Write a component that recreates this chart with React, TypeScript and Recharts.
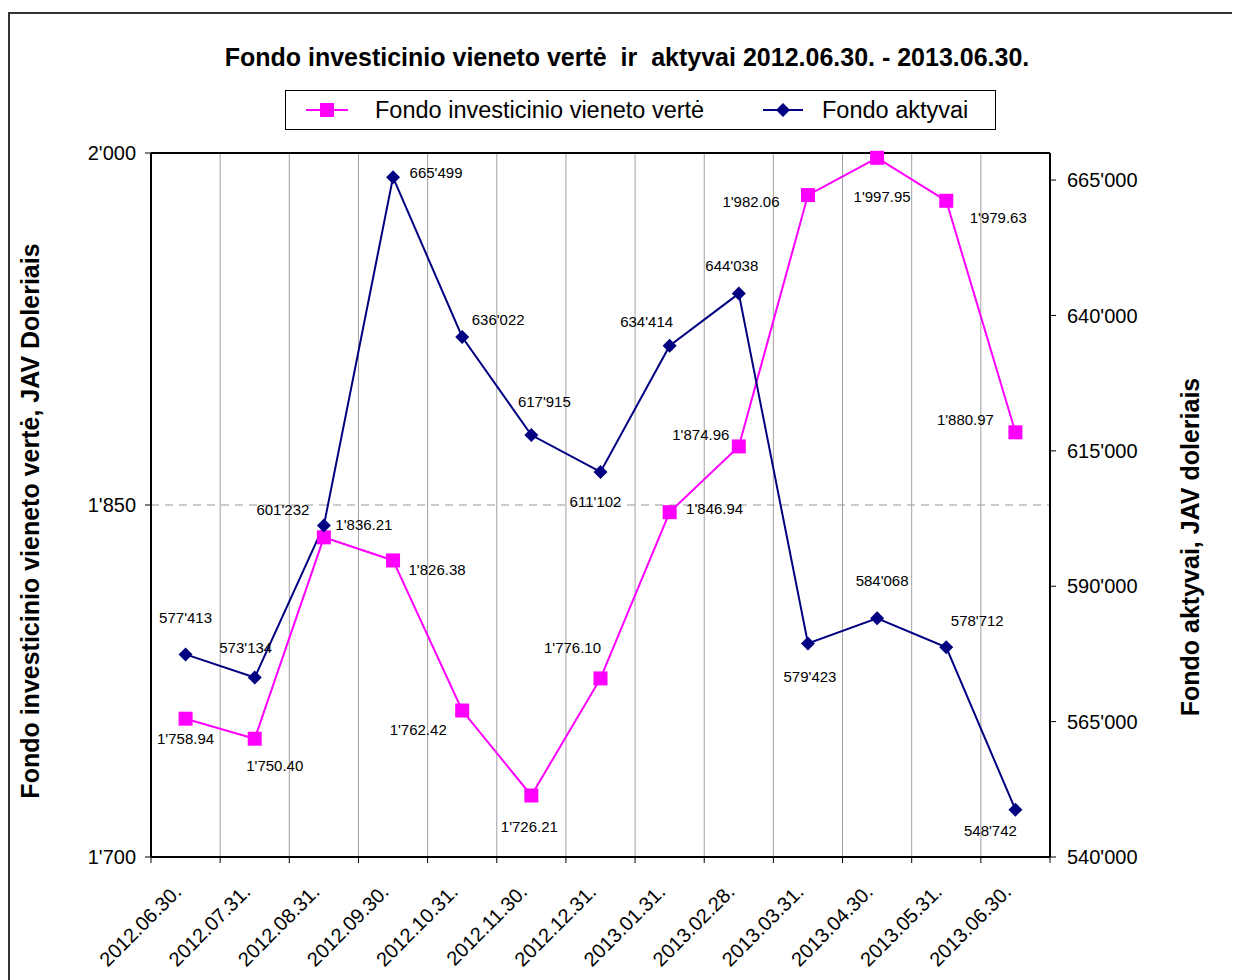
import React from "react";
import {
  LabelList,
  Line,
  LineChart,
  ReferenceLine,
  XAxis,
  YAxis,
} from "recharts";

const dates = [
  "2012.06.30.",
  "2012.07.31.",
  "2012.08.31.",
  "2012.09.30.",
  "2012.10.31.",
  "2012.11.30.",
  "2012.12.31.",
  "2013.01.31.",
  "2013.02.28.",
  "2013.03.31.",
  "2013.04.30.",
  "2013.05.31.",
  "2013.06.30.",
];

const unitValue = [
  1758.94, 1750.4, 1836.21, 1826.38, 1762.42, 1726.21, 1776.1, 1846.94,
  1874.96, 1982.06, 1997.95, 1979.63, 1880.97,
];

const assets = [
  577413, 573134, 601232, 665499, 636022, 617915, 611102, 634414, 644038,
  579423, 584068, 578712, 548742,
];

const leftTicks = [1700, 1850, 2000];
const rightTicks = [540000, 565000, 590000, 615000, 640000, 665000];
const categoryTicks = [0, 1, 2, 3, 4, 5, 6, 7, 8, 9, 10, 11, 12];
// boundaries between the months, where Excel puts its vertical gridlines
const boundaries = [
  -0.5, 0.5, 1.5, 2.5, 3.5, 4.5, 5.5, 6.5, 7.5, 8.5, 9.5, 10.5, 11.5, 12.5,
];

// where each value label sits relative to its point (dx, dy)
const unitLabelOffset: [number, number][] = [
  [0, 20], [20, 27], [40, -13], [44, 9], [-44, 19], [-2, 31], [-28, -31],
  [45, -4], [-38, -12], [-57, 6], [5, 39], [52, 17], [-50, -13],
];
const assetLabelOffset: [number, number][] = [
  [0, -37], [-9, -30], [-41, -16], [43, -5], [36, -18], [13, -34], [-5, 30],
  [-23, -24], [-7, -28], [2, 33], [5, -38], [31, -27], [-25, 21],
];

const data = dates.map((date, idx) => ({
  idx,
  date,
  unit: unitValue[idx],
  assets: assets[idx],
}));

const FONT = '"Liberation Sans", Arial, sans-serif';
const PINK = "#FF00FF";
const NAVY = "#000080";

const sep = (s: string) => s.replace(/\B(?=(\d{3})+(?!\d))/g, "'");
const fmtInt = (v: number) => sep(String(Math.round(v)));
const fmtUnit = (v: number) => {
  const [a, b] = v.toFixed(2).split(".");
  return `${sep(a)}.${b}`;
};

function makeLabel(offsets: [number, number][], fmt: (v: number) => string) {
  return (p: any) => {
    const [dx, dy] = offsets[p.index] || [0, 0];
    return (
      <text
        x={Number(p.x) + dx}
        y={Number(p.y) + dy}
        textAnchor="middle"
        dominantBaseline="central"
        fontSize={15}
        fontFamily={FONT}
        fill="#000"
      >
        {fmt(Number(p.value))}
      </text>
    );
  };
}

const SquareDot = (p: any) => (
  <rect
    key={`s${p.index}`}
    x={p.cx - 7}
    y={p.cy - 7}
    width={14}
    height={14}
    fill={PINK}
  />
);

const DiamondDot = (p: any) => (
  <path
    key={`d${p.index}`}
    d={`M${p.cx},${p.cy - 7}L${p.cx + 7},${p.cy}L${p.cx},${p.cy + 7}L${p.cx - 7},${p.cy}Z`}
    fill={NAVY}
  />
);

const DateTick = (p: any) => (
  <g transform={`translate(${p.x - 3},${p.y + 36})`}>
    <text
      textAnchor="end"
      transform="rotate(-45)"
      fontSize={20}
      fontFamily={FONT}
      fill="#000"
    >
      {dates[p.payload.value]}
    </text>
  </g>
);

// gray gridline plus a short black tick below the x axis
const GridLine = (p: any) => {
  const top = Math.min(p.y1, p.y2);
  const bottom = Math.max(p.y1, p.y2);
  return (
    <g>
      <line x1={p.x1} x2={p.x1} y1={top} y2={bottom} stroke="#a0a0a0" strokeWidth={1} />
      <line x1={p.x1} x2={p.x1} y1={bottom} y2={bottom + 6} stroke="#000" strokeWidth={1} />
    </g>
  );
};

const axisTitle = (text: string, side: "left" | "right") => (p: any) => {
  const vb = p.viewBox;
  const x = side === "left" ? vb.x - 51 : vb.x + 140;
  const y = vb.y + vb.height / 2 + (side === "left" ? 16 : 42);
  return (
    <text
      x={x}
      y={y}
      transform={`rotate(-90 ${x} ${y})`}
      textAnchor="middle"
      dominantBaseline="central"
      fontSize={25}
      fontWeight="bold"
      fontFamily={FONT}
      fill="#000"
    >
      {text}
    </text>
  );
};

export default function App() {
  return (
    <div
      style={{
        position: "relative",
        width: 1232,
        height: 972,
        overflow: "hidden",
        fontFamily: FONT,
        background: "#fff",
      }}
    >
      <div
        style={{
          position: "absolute",
          left: 0,
          top: 4,
          width: 1240,
          height: 1000,
          border: "2px solid #333",
        }}
      />
      <div
        style={{
          position: "absolute",
          left: 0,
          width: 1238,
          top: 34,
          lineHeight: "30px",
          textAlign: "center",
          fontSize: 25,
          fontWeight: "bold",
          whiteSpace: "pre",
        }}
      >
        {"Fondo investicinio vieneto vertė  ir  aktyvai 2012.06.30. - 2013.06.30."}
      </div>
      <div
        style={{
          position: "absolute",
          left: 277,
          top: 82,
          width: 711,
          height: 40,
          boxSizing: "border-box",
          border: "1px solid #000",
          fontSize: 23.5,
        }}
      >
        <svg
          style={{ position: "absolute", left: 20, top: 9 }}
          width={42}
          height={20}
        >
          <line x1={0} y1={10} x2={42} y2={10} stroke={PINK} strokeWidth={2} />
          <rect x={14} y={3} width={14} height={14} fill={PINK} />
        </svg>
        <span style={{ position: "absolute", left: 89, top: 5, lineHeight: "28px" }}>
          Fondo investicinio vieneto vertė
        </span>
        <svg
          style={{ position: "absolute", left: 477, top: 9 }}
          width={40}
          height={20}
        >
          <line x1={0} y1={10} x2={40} y2={10} stroke={NAVY} strokeWidth={2} />
          <path d="M20,3L27,10L20,17L13,10Z" fill={NAVY} />
        </svg>
        <span style={{ position: "absolute", left: 536, top: 5, lineHeight: "28px" }}>
          Fondo aktyvai
        </span>
      </div>
      <div style={{ position: "absolute", left: 0, top: 0 }}>
        <LineChart
          width={1232}
          height={972}
          data={data}
          margin={{ top: 145, left: 73, right: 90, bottom: 23 }}
        >
          <XAxis
            dataKey="idx"
            type="number"
            domain={[-0.5, 12.5]}
            ticks={categoryTicks}
            interval={0}
            height={100}
            axisLine={{ stroke: "#000", strokeWidth: 2 }}
            tickLine={false}
            tickSize={0}
            tickMargin={0}
            tick={<DateTick />}
          />
          <YAxis
            yAxisId="left"
            domain={[1700, 2000]}
            ticks={leftTicks}
            width={70}
            interval={0}
            tickFormatter={fmtInt}
            tick={{ fill: "#000", fontSize: 20, fontFamily: FONT }}
            tickSize={6}
            tickMargin={9}
            axisLine={{ stroke: "#000", strokeWidth: 2 }}
            tickLine={{ stroke: "#000" }}
            label={{ content: axisTitle("Fondo investicinio vieneto vertė, JAV Doleriais", "left") }}
          />
          <YAxis
            yAxisId="right"
            orientation="right"
            domain={[540000, 670000]}
            ticks={rightTicks}
            width={100}
            interval={0}
            tickFormatter={fmtInt}
            tick={{ fill: "#000", fontSize: 20, fontFamily: FONT }}
            tickSize={6}
            tickMargin={11}
            axisLine={{ stroke: "#000", strokeWidth: 2 }}
            tickLine={{ stroke: "#000" }}
            label={{ content: axisTitle("Fondo aktyvai, JAV doleriais", "right") }}
          />
          {boundaries.map((b) => (
            <ReferenceLine key={b} x={b} yAxisId="left" shape={GridLine} />
          ))}
          <ReferenceLine
            yAxisId="left"
            y={1850}
            stroke="#999"
            strokeDasharray="8 6"
          />
          <ReferenceLine yAxisId="left" y={2000} stroke="#000" strokeWidth={2} />
          <Line
            yAxisId="left"
            dataKey="unit"
            stroke={PINK}
            strokeWidth={2}
            dot={SquareDot}
            isAnimationActive={false}
          >
            <LabelList dataKey="unit" content={makeLabel(unitLabelOffset, fmtUnit)} />
          </Line>
          <Line
            yAxisId="right"
            dataKey="assets"
            stroke={NAVY}
            strokeWidth={2}
            dot={DiamondDot}
            isAnimationActive={false}
          >
            <LabelList dataKey="assets" content={makeLabel(assetLabelOffset, fmtInt)} />
          </Line>
        </LineChart>
      </div>
    </div>
  );
}
